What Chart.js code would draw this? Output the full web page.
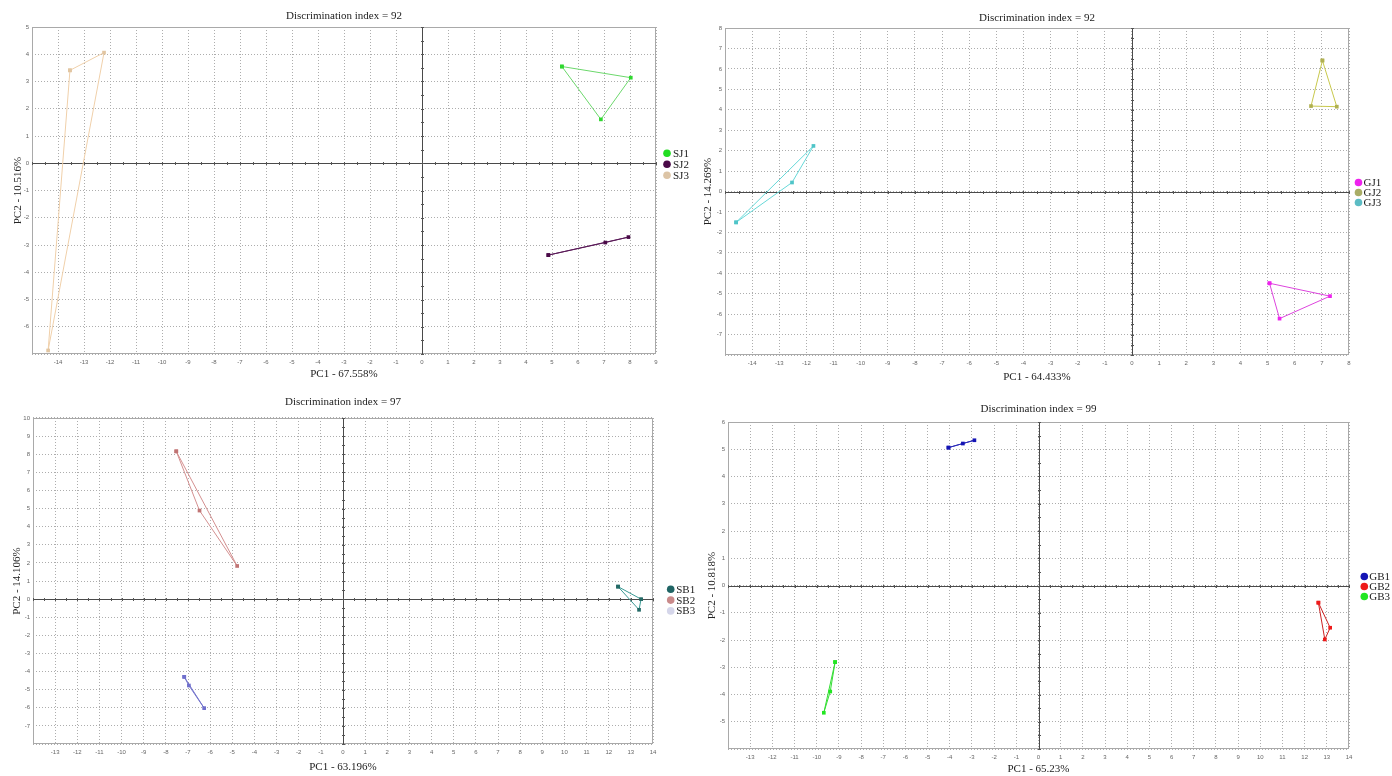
<!DOCTYPE html>
<html>
<head>
<meta charset="utf-8">
<title>PCA score plots</title>
<script src="https://cdn.jsdelivr.net/npm/chart.js@4/dist/chart.umd.min.js"></script>
<style>
  html, body { margin: 0; padding: 0; background: #fff; }
  #wrap { position: relative; width: 1392px; height: 776px; overflow: hidden; background: #fff; }
  #wrap canvas { position: absolute; }
</style>
</head>
<body>
<div id="wrap">
  <canvas id="pcaSJ" width="695" height="388" style="left:0px;top:0px"></canvas>
  <canvas id="pcaGJ" width="697" height="388" style="left:695px;top:0px"></canvas>
  <canvas id="pcaSB" width="695" height="388" style="left:0px;top:388px"></canvas>
  <canvas id="pcaGB" width="697" height="388" style="left:695px;top:388px"></canvas>
</div>
<script>
// ---- scores (PC1, PC2) for each sample group, three replicates each ----
const sjGroups = ['SJ1', 'SJ2', 'SJ3'];
const sjPC1 = [[5.38, 8.03, 6.88], [4.86, 7.05, 7.94], [-13.54, -12.23, -14.38]];
const sjPC2 = [[3.55, 3.14, 1.61], [-3.37, -2.91, -2.71], [3.41, 4.06, -6.87]];

const gjGroups = ['GJ1', 'GJ2', 'GJ3'];
const gjPC1 = [[5.07, 7.30, 5.44], [7.02, 7.55, 6.60], [-14.59, -12.53, -11.74]];
const gjPC2 = [[-4.49, -5.12, -6.22], [6.41, 4.15, 4.18], [-1.51, 0.44, 2.23]];

const sbGroups = ['SB1', 'SB2', 'SB3'];
const sbPC1 = [[12.42, 13.46, 13.37], [-7.53, -6.48, -4.78], [-7.17, -6.96, -6.27]];
const sbPC2 = [[0.69, 0.00, -0.59], [8.16, 4.89, 1.83], [-4.29, -4.77, -6.02]];

const gbGroups = ['GB1', 'GB2', 'GB3'];
const gbPC1 = [[-4.06, -3.41, -2.89], [12.62, 13.15, 12.91], [-9.17, -9.39, -9.68]];
const gbPC2 = [[5.06, 5.21, 5.33], [-0.63, -1.55, -1.98], [-2.81, -3.89, -4.67]];

// axis ranges [min, max]
const sjRangePC1 = [-15, 9],  sjRangePC2 = [-7, 5];
const gjRangePC1 = [-15, 8],  gjRangePC2 = [-8, 8];
const sbRangePC1 = [-14, 14], sbRangePC2 = [-8, 10];
const gbRangePC1 = [-14, 14], gbRangePC2 = [-6, 6];

// headings and explained variance
const discrimIndex = [92, 92, 97, 99];
const pc1Titles = ['PC1 - 67.558%', 'PC1 - 64.433%', 'PC1 - 63.196%', 'PC1 - 65.23%'];
const pc2Titles = ['PC2 - 10.516%', 'PC2 - 14.269%', 'PC2 - 14.106%', 'PC2 - 10.818%'];

// ---- styling ----
const SERIF = '"Liberation Serif", "Times New Roman", serif';
const SANS = '"Liberation Sans", Arial, sans-serif';

const panels = [
  {
    id: 'pcaSJ', groups: sjGroups, pc1: sjPC1, pc2: sjPC2, xr: sjRangePC1, yr: sjRangePC2,
    pointColors: ['#2fd82f', '#4a0a48', '#e2c6a2'],
    lineColors: ['#6cd86c', '#5a1a58', '#f0d0aa'],
    legendColors: ['#22dd22', '#4a0a48', '#dcc4a6'],
    yAxisW: 32, padRight: 39, xAxisH: 34, titlePad: { top: 9.4, bottom: 4.4 }, xTitlePad: 7, yTitlePad: 11.4,
    legend: { markerOffset: 11, textGap: 6, rowGap: 11 }
  },
  {
    id: 'pcaGJ', groups: gjGroups, pc1: gjPC1, pc2: gjPC2, xr: gjRangePC1, yr: gjRangePC2,
    pointColors: ['#ee22ee', '#b0b050', '#4fc4c8'],
    lineColors: ['#dd44dd', '#c8c84c', '#66d8d8'],
    legendColors: ['#ee22ee', '#a9ad66', '#5cbcc4'],
    yAxisW: 30, padRight: 43, xAxisH: 33, titlePad: { top: 11.4, bottom: 3.4 }, xTitlePad: 4.4, yTitlePad: 6.4,
    legend: { markerOffset: 9.5, textGap: 5, rowGap: 10 }
  },
  {
    id: 'pcaSB', groups: sbGroups, pc1: sbPC1, pc2: sbPC2, xr: sbRangePC1, yr: sbRangePC2,
    pointColors: ['#236a66', '#c07474', '#6f6fcc'],
    lineColors: ['#3a9a94', '#d49090', '#7474cc'],
    legendColors: ['#1f6464', '#c98a8a', '#d5d6ea'],
    yAxisW: 33, padRight: 42, xAxisH: 32, titlePad: { top: 7.1, bottom: 9.7 }, xTitlePad: 2.7, yTitlePad: 10.4,
    legend: { markerOffset: 17.7, textGap: 5.5, rowGap: 10.8 }
  },
  {
    id: 'pcaGB', groups: gbGroups, pc1: gbPC1, pc2: gbPC2, xr: gbRangePC1, yr: gbRangePC2,
    pointColors: ['#1414b4', '#ee1a1a', '#22e622'],
    lineColors: ['#2a2ab8', '#cc2222', '#33dd33'],
    legendColors: ['#1414b4', '#ee1a1a', '#22e622'],
    yAxisW: 33, padRight: 43, xAxisH: 27, titlePad: { top: 14.4, bottom: 6.4 }, xTitlePad: 0, yTitlePad: 10.1,
    legend: { markerOffset: 15.3, textGap: 5, rowGap: 10 }
  }
];

// Frame, zero axes with half-unit ticks, and a legend anchored on the PC2 = 0 line.
const pcaFrame = {
  id: 'pcaFrame',
  beforeDatasetsDraw(chart) {
    const { ctx, chartArea: a, scales: { x, y } } = chart;
    const x0 = Math.round(x.getPixelForValue(0)) + 0.5;
    const y0 = Math.round(y.getPixelForValue(0)) + 0.5;
    ctx.save();
    ctx.lineWidth = 1;
    ctx.strokeStyle = '#a9a9a9';
    ctx.strokeRect(Math.round(a.left) + 0.5, Math.round(a.top) + 0.5,
                   Math.round(a.width) - 1, Math.round(a.height) - 1);
    ctx.strokeStyle = '#4a4a4a';
    ctx.beginPath();
    ctx.moveTo(a.left, y0); ctx.lineTo(a.right, y0);
    ctx.moveTo(x0, a.top); ctx.lineTo(x0, a.bottom);
    ctx.stroke();
    ctx.strokeStyle = '#555';
    ctx.beginPath();
    for (let v = Math.ceil(x.min * 2) / 2; v <= x.max; v += 0.5) {
      const px = Math.round(x.getPixelForValue(v)) + 0.5;
      ctx.moveTo(px, y0 - 1.5); ctx.lineTo(px, y0 + 1.5);
    }
    for (let v = Math.ceil(y.min * 2) / 2; v <= y.max; v += 0.5) {
      const py = Math.round(y.getPixelForValue(v)) + 0.5;
      ctx.moveTo(x0 - 1.5, py); ctx.lineTo(x0 + 1.5, py);
    }
    ctx.stroke();
    ctx.restore();
  },
  afterDraw(chart, args, opts) {
    const { ctx, chartArea: a, scales: { y } } = chart;
    const mid = y.getPixelForValue(0) + 1;
    const n = chart.data.datasets.length;
    ctx.save();
    ctx.font = '11px ' + SERIF;
    ctx.textBaseline = 'middle';
    ctx.textAlign = 'left';
    chart.data.datasets.forEach((ds, i) => {
      const cy = mid + (i - (n - 1) / 2) * opts.rowGap;
      const cx = a.right + opts.markerOffset;
      ctx.fillStyle = opts.colors[i];
      ctx.beginPath();
      ctx.arc(cx, cy, 3.8, 0, Math.PI * 2);
      ctx.fill();
      ctx.fillStyle = '#1a1a1a';
      ctx.fillText(ds.label, cx + opts.textGap, cy + 0.5);
    });
    ctx.restore();
  }
};

function buildPanel(p, k) {
  const datasets = p.groups.map((g, i) => {
    const pts = p.pc1[i].map((v, j) => ({ x: v, y: p.pc2[i][j] }));
    pts.push(pts[0]); // close the group outline
    return {
      label: g,
      data: pts,
      showLine: true,
      tension: 0,
      borderColor: p.lineColors[i],
      borderWidth: 1,
      pointStyle: 'rect',
      pointRadius: 2.6,
      pointBorderWidth: 0,
      pointBackgroundColor: p.pointColors[i]
    };
  });

  const tickFont = { family: SANS, size: 6 };
  const gridOpts = { color: '#adadad', lineWidth: 1, drawTicks: false };

  new Chart(document.getElementById(p.id), {
    type: 'scatter',
    data: { datasets },
    options: {
      responsive: false,
      animation: false,
      events: [],
      layout: { padding: { left: 0, top: 0, right: p.padRight, bottom: 0 } },
      plugins: {
        legend: { display: false },
        tooltip: { enabled: false },
        title: {
          display: true,
          fullSize: false,
          text: 'Discrimination index = ' + discrimIndex[k],
          color: '#222',
          font: { family: SERIF, size: 11, weight: 'normal' },
          padding: p.titlePad
        },
        pcaFrame: { colors: p.legendColors, ...p.legend }
      },
      scales: {
        x: {
          type: 'linear',
          min: p.xr[0], max: p.xr[1],
          afterFit: s => { s.height = p.xAxisH; },
          grid: gridOpts,
          border: { display: false, dash: [1, 2] },
          ticks: {
            stepSize: 1, autoSkip: false, maxRotation: 0, padding: 5,
            color: '#666', font: tickFont,
            callback: v => (v === p.xr[0] ? '' : String(v))
          },
          title: {
            display: true, text: pc1Titles[k], color: '#222',
            font: { family: SERIF, size: 11 },
            padding: { top: 0, bottom: p.xTitlePad }
          }
        },
        y: {
          type: 'linear',
          min: p.yr[0], max: p.yr[1],
          afterFit: s => { s.width = p.yAxisW; },
          grid: gridOpts,
          border: { display: false, dash: [1, 2] },
          ticks: {
            stepSize: 1, autoSkip: false, padding: 3,
            color: '#666', font: tickFont,
            callback: v => (v === p.yr[0] ? '' : String(v))
          },
          title: {
            display: true, text: pc2Titles[k], color: '#222',
            font: { family: SERIF, size: 11 },
            padding: { top: p.yTitlePad, bottom: 0 }
          }
        }
      }
    },
    plugins: [pcaFrame]
  });
}

panels.forEach(buildPanel);
</script>
</body>
</html>
